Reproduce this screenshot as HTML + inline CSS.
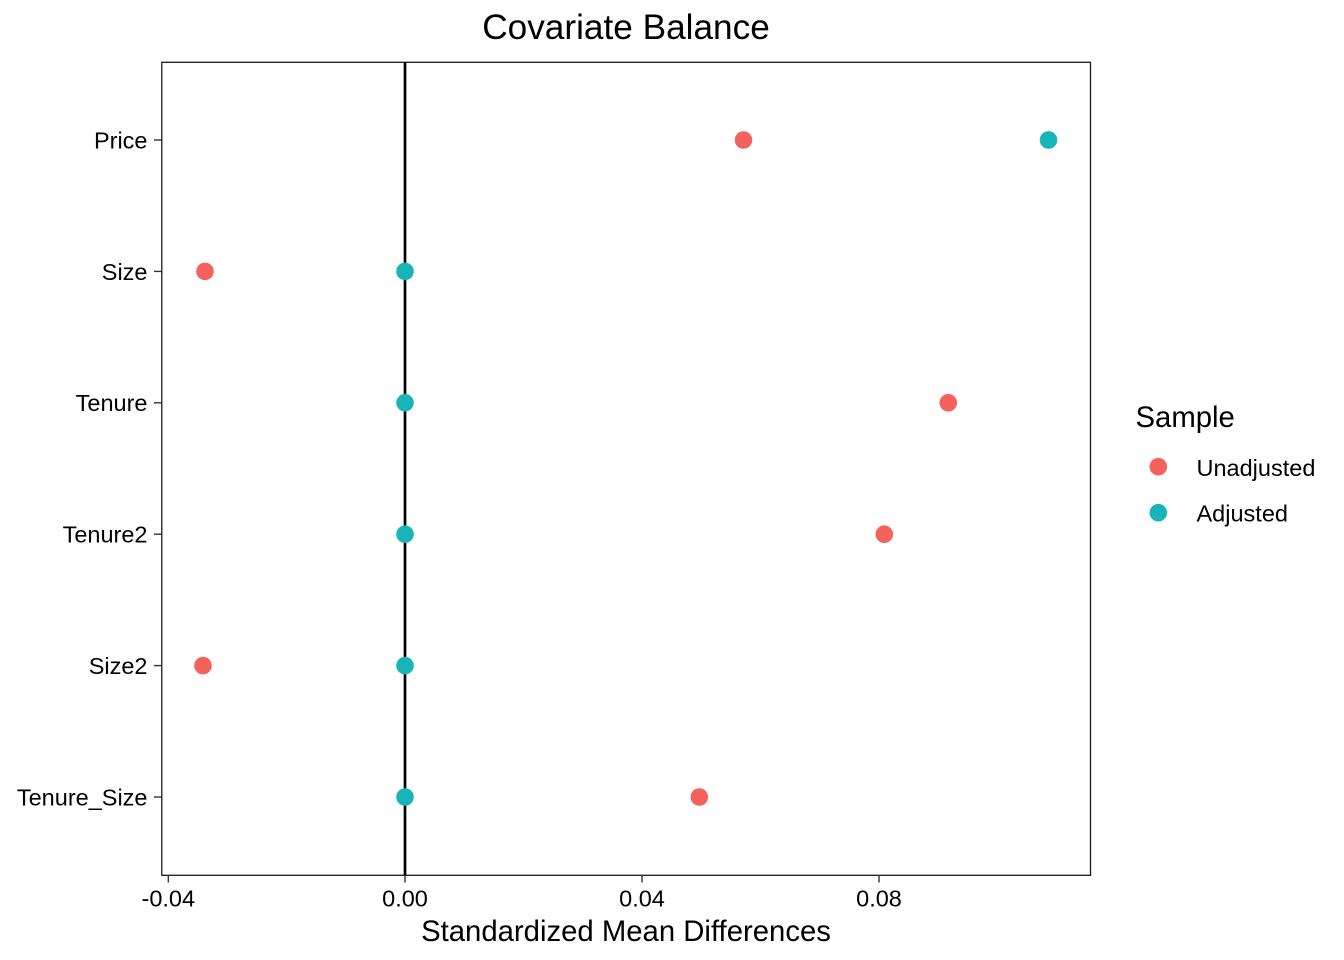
<!DOCTYPE html>
<html><head><meta charset="utf-8"><style>
html,body{margin:0;padding:0;background:#fff;}
svg{display:block;}
text{font-family:"Liberation Sans",Arial,sans-serif;fill:#000;}
</style></head><body>
<svg width="1344" height="960" viewBox="0 0 1344 960" xmlns="http://www.w3.org/2000/svg">
<rect x="0" y="0" width="1344" height="960" fill="#fff"/>
<!-- title -->
<text x="626" y="39" font-size="35.2" text-anchor="middle">Covariate Balance</text>
<!-- zero line -->
<line x1="405" y1="62" x2="405" y2="875.5" stroke="#000" stroke-width="2.7"/>
<!-- panel border -->
<rect x="161.8" y="62.3" width="928.7" height="813" fill="none" stroke="#1a1a1a" stroke-width="1.3"/>
<!-- y ticks -->
<g stroke="#333" stroke-width="1.4">
<line x1="154" y1="140" x2="161.5" y2="140"/>
<line x1="154" y1="271.4" x2="161.5" y2="271.4"/>
<line x1="154" y1="402.8" x2="161.5" y2="402.8"/>
<line x1="154" y1="534.2" x2="161.5" y2="534.2"/>
<line x1="154" y1="665.6" x2="161.5" y2="665.6"/>
<line x1="154" y1="797" x2="161.5" y2="797"/>
<!-- x ticks -->
<line x1="168.3" y1="875" x2="168.3" y2="882.5"/>
<line x1="405" y1="875" x2="405" y2="882.5"/>
<line x1="642" y1="875" x2="642" y2="882.5"/>
<line x1="879" y1="875" x2="879" y2="882.5"/>
</g>
<!-- y labels -->
<g font-size="23.5" text-anchor="end">
<text x="147.5" y="148.4">Price</text>
<text x="147.5" y="279.8">Size</text>
<text x="147.5" y="411.2">Tenure</text>
<text x="147.5" y="542.6">Tenure2</text>
<text x="147.5" y="674">Size2</text>
<text x="147.5" y="805.4">Tenure_Size</text>
</g>
<!-- x labels -->
<g font-size="23.5" text-anchor="middle">
<text x="168.3" y="906.5">-0.04</text>
<text x="405" y="906.5">0.00</text>
<text x="642" y="906.5">0.04</text>
<text x="879" y="906.5">0.08</text>
</g>
<text x="626" y="941" font-size="29.3" text-anchor="middle">Standardized Mean Differences</text>
<!-- points: unadjusted -->
<g fill="#F5625D">
<circle cx="743.5" cy="140" r="8.8"/>
<circle cx="205" cy="271.4" r="8.8"/>
<circle cx="948.3" cy="402.8" r="8.8"/>
<circle cx="884.3" cy="534.2" r="8.8"/>
<circle cx="203" cy="665.6" r="8.8"/>
<circle cx="699.3" cy="797" r="8.8"/>
</g>
<!-- points: adjusted -->
<g fill="#17B5B8">
<circle cx="1048.5" cy="140" r="8.8"/>
<circle cx="405" cy="271.4" r="8.8"/>
<circle cx="405" cy="402.8" r="8.8"/>
<circle cx="405" cy="534.2" r="8.8"/>
<circle cx="405" cy="665.6" r="8.8"/>
<circle cx="405" cy="797" r="8.8"/>
</g>
<!-- legend -->
<text x="1135.5" y="427" font-size="29.3">Sample</text>
<circle cx="1158.3" cy="466.7" r="8.8" fill="#F5625D"/>
<circle cx="1158.3" cy="512.7" r="8.8" fill="#17B5B8"/>
<text x="1196.5" y="475.8" font-size="23.5">Unadjusted</text>
<text x="1196.5" y="521.6" font-size="23.5">Adjusted</text>
</svg>
</body></html>
